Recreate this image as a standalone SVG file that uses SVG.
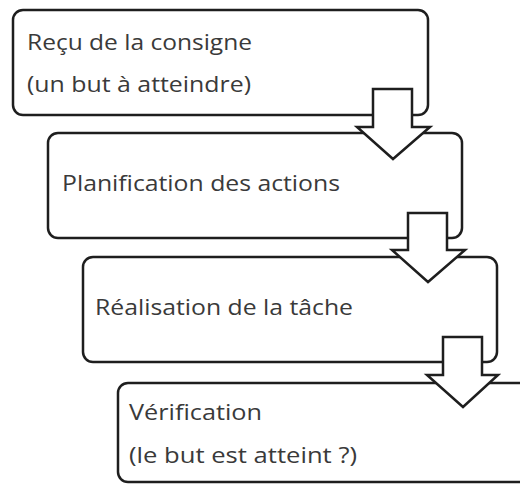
<svg xmlns="http://www.w3.org/2000/svg" width="520" height="484" viewBox="0 0 520 484">
<style>
.box{fill:#fff;stroke:#1e1e1e;stroke-width:2.5}
.arr{fill:#fff;stroke:#1e1e1e;stroke-width:2.5;stroke-linejoin:miter}
text{font-family:"Open Sans","Noto Sans",sans-serif;font-size:22px;fill:#3a3a3a}
</style>
<rect width="520" height="484" fill="#fff"/>
<g id="n1"><rect class="box" x="13" y="10" width="415" height="105" rx="10"/>
<text x="27" y="50" textLength="225" lengthAdjust="spacingAndGlyphs">Reçu de la consigne</text>
<text x="27" y="92" textLength="224" lengthAdjust="spacingAndGlyphs">(un but à atteindre)</text></g>
<g id="n2"><rect class="box" x="48" y="133" width="414" height="105" rx="10"/>
<text x="62" y="191" textLength="278" lengthAdjust="spacingAndGlyphs">Planification des actions</text></g>
<g id="n3"><rect class="box" x="83" y="257" width="414" height="105" rx="10"/>
<text x="95" y="315" textLength="258" lengthAdjust="spacingAndGlyphs">Réalisation de la tâche</text></g>
<g id="n4"><rect class="box" x="118" y="383" width="420" height="99" rx="10"/>
<text x="129" y="420" textLength="133" lengthAdjust="spacingAndGlyphs">Vérification</text>
<text x="129" y="463" textLength="228" lengthAdjust="spacingAndGlyphs">(le but est atteint ?)</text></g>
<g id="connectors">
<path class="arr" d="M373,89 H412 V127 H430 L393,159 L357,127 H373 Z"/>
<path class="arr" d="M408,213 H447 V250 H465 L428,282 L392,250 H408 Z"/>
<path class="arr" d="M443,337 H482 V375 H498 L463,407 L427,375 H443 Z"/>
</g>
</svg>
